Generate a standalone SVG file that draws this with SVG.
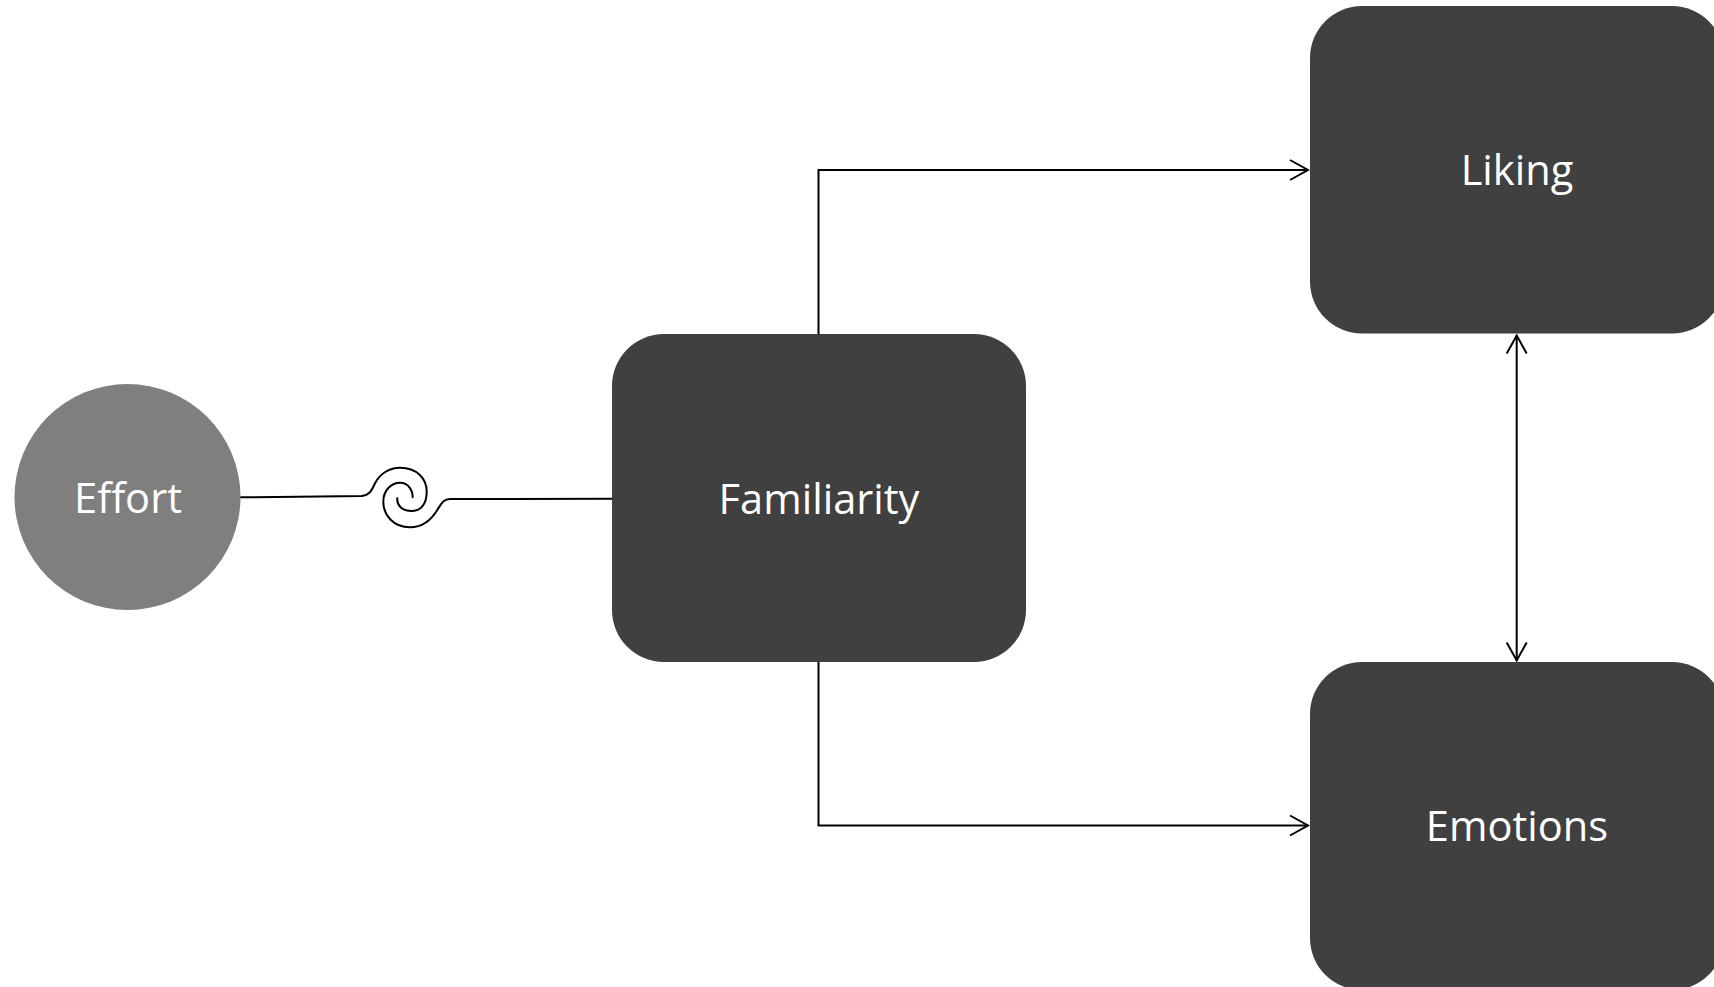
<svg xmlns="http://www.w3.org/2000/svg" width="1714" height="987" viewBox="0 0 1714 987">
  <style>
    .box { fill: #404040; }
    .circ { fill: #7f7f7f; }
    .lbl { fill: #ffffff; font-family: "Open Sans", "Noto Sans", sans-serif; font-size: 41.6px; text-anchor: middle; }
    .conn { fill: none; stroke: #000000; stroke-width: 2; }
    .curl { fill: none; stroke: #000000; stroke-width: 2; stroke-linecap: round; }
  </style>
  <defs>
    <marker id="arr" markerUnits="userSpaceOnUse" viewBox="-22 -12 24 24" markerWidth="24" markerHeight="24" refX="0" refY="0" orient="auto-start-reverse" overflow="visible">
      <path d="M-18,-10 L0,0 L-18,10" fill="none" stroke="#000000" stroke-width="2"/>
    </marker>
  </defs>
  <rect width="1714" height="987" fill="#ffffff"/>

  <g id="connectors">
    <path class="curl" d="M240,497.3 L361.7,496 C370,495 371.7,490 375,483.3 C380,473.3 390,467.7 400,467.7 C416.7,467.7 426.7,478.3 426.7,491.7 C426.7,505 420,511 411.7,511 C401.7,511 396.7,505 397.3,498.3"/>
    <path class="curl" d="M612,498.7 L450,499 C443.3,499.3 441.7,503.3 438.3,508.3 C431.7,520 421.7,527.3 410,527.3 C393.3,527.3 383.3,515 383.3,501.7 C383.3,490 391.7,482.7 400,482.7 C408.3,482.7 412.7,490 412.7,497.3"/>
    <path class="conn" d="M818.5,334 L818.5,170 L1308,170" marker-end="url(#arr)"/>
    <path class="conn" d="M818.5,662 L818.5,825.5 L1308,825.5" marker-end="url(#arr)"/>
    <path class="conn" d="M1516.7,335.5 L1516.7,660.5" marker-start="url(#arr)" marker-end="url(#arr)"/>
  </g>

  <g id="node-effort">
    <circle class="circ" cx="127.5" cy="497" r="113"/>
    <text class="lbl" x="128" y="513">Effort</text>
  </g>
  <g id="node-familiarity">
    <rect class="box" x="612" y="334" width="414" height="328" rx="52" ry="52"/>
    <text class="lbl" x="819" y="514">Familiarity</text>
  </g>
  <g id="node-liking">
    <rect class="box" x="1310" y="6" width="414" height="327.5" rx="52" ry="52"/>
    <text class="lbl" x="1517" y="185">Liking</text>
  </g>
  <g id="node-emotions">
    <rect class="box" x="1310" y="662" width="414" height="328" rx="52" ry="52"/>
    <text class="lbl" x="1517" y="841">Emotions</text>
  </g>
</svg>
